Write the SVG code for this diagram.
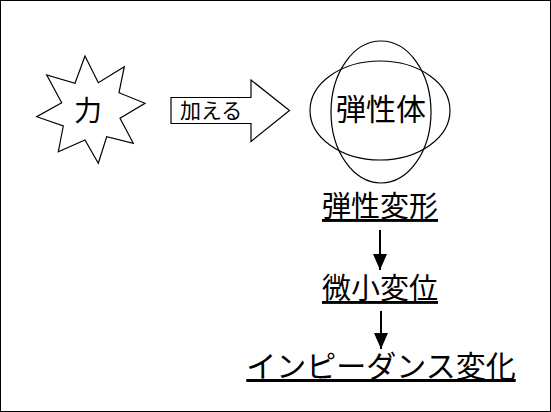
<svg xmlns="http://www.w3.org/2000/svg" width="551" height="412" viewBox="0 0 551 412">
<defs>
<marker id="ah" markerWidth="16" markerHeight="14" refX="16" refY="7" orient="auto" markerUnits="userSpaceOnUse" viewBox="0 0 16 14">
<path d="M0,0 L16,7 L0,14 Z" fill="#000"/>
</marker>
</defs>
<style>
.shape{fill:#fff;stroke:#000;stroke-width:1.2}
.jp{font-family:"Noto Sans CJK JP","Noto Sans",sans-serif;fill:#000}
.ul{text-decoration:underline}
.conn{stroke:#000;stroke-width:2;fill:none}
</style>
<rect x="0.5" y="0.5" width="550" height="411" fill="#fff" stroke="#000" stroke-width="1"/>
<g id="force">
<polygon class="shape" points="85,56 98.3,82.7 124.3,66.7 119,92.7 145,103.3 120,118.3 133.3,143.3 106.7,136.7 98.3,163.3 85,140 58.3,151.7 63.3,126 36.7,116.7 61.7,102.7 46.7,75 75,83.3"/>
<text class="jp" x="88" y="121" font-size="28" text-anchor="middle">力</text>
</g>
<g id="apply">
<polygon class="shape" points="171,97.5 251,97.5 251,80 289.5,110.5 251,141.5 251,123.5 171,123.5"/>
<text class="jp" x="180" y="118" font-size="21">加える</text>
</g>
<g id="elastic-body">
<ellipse class="shape" cx="380" cy="110.5" rx="70" ry="49.5" style="fill:none"/>
<ellipse class="shape" cx="381" cy="112" rx="50" ry="71" style="fill:none"/>
<text class="jp" x="381" y="120" font-size="30" text-anchor="middle">弾性体</text>
</g>
<g id="elastic-deformation">
<text class="jp ul" x="380" y="217" font-size="29" text-anchor="middle">弾性変形</text>
</g>
<g id="micro-displacement">
<text class="jp ul" x="380" y="299" font-size="29" text-anchor="middle">微小変位</text>
</g>
<g id="impedance-change">
<text class="jp ul" x="381" y="377" font-size="30" text-anchor="middle">インピーダンス変化</text>
</g>
<g id="connectors">
<line class="conn" x1="380" y1="230" x2="380" y2="270" marker-end="url(#ah)"/>
<line class="conn" x1="381" y1="311" x2="381" y2="349" marker-end="url(#ah)"/>
</g>
</svg>
